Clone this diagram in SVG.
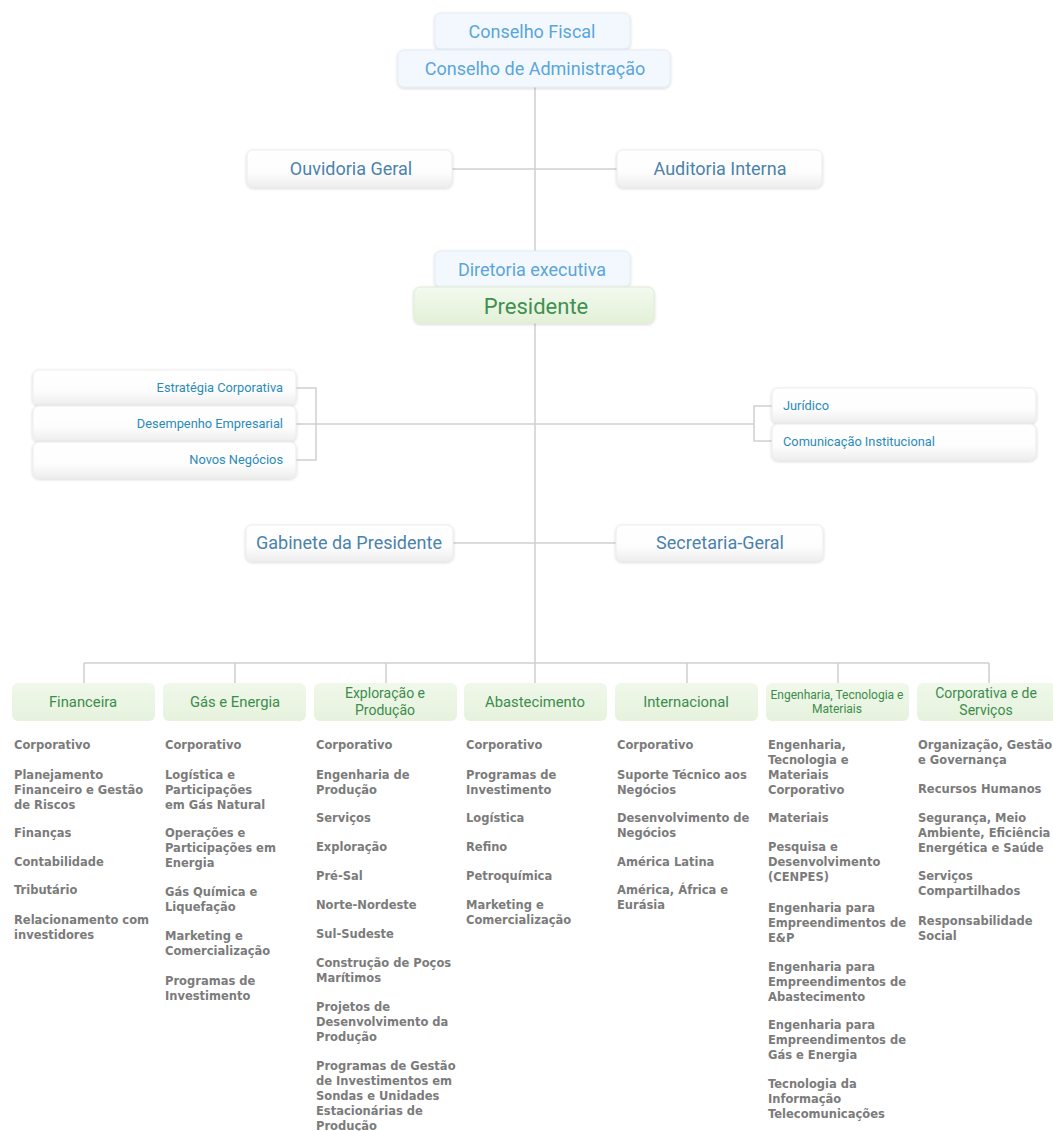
<svg xmlns="http://www.w3.org/2000/svg" width="1053" height="1131" viewBox="0 0 1053 1131">
<style>
.t{font-family:Roboto,"Liberation Sans",sans-serif;text-anchor:middle}
.blue{fill:#5aa5dc;font-size:18px}
.steel{fill:#4a82ad;font-size:18px}
.pres{fill:#3f9150;font-size:22px}
.side{font-family:Roboto,"Liberation Sans",sans-serif;fill:#2b8bb8;font-size:12.8px}
.hdr{fill:#3c8c4c;font-size:14.8px}
.hdr2{fill:#3c8c4c;font-size:14px}
.item{font-family:"DejaVu Sans",Verdana,sans-serif;font-weight:bold;fill:#7b7b7b;font-size:11.5px}
.ln{stroke:#cfcfcf;stroke-width:1.5;fill:none}
.bb{fill:#f3f8fe;stroke:#e4ecf5;stroke-width:1}
.wb{fill:url(#gw);stroke:#ececec;stroke-width:1}
.gb{fill:url(#gg);stroke:#e0ecd6;stroke-width:1}
.hb{fill:url(#gh)}
</style>
<defs>
<linearGradient id="gw" x1="0" y1="0" x2="0" y2="1"><stop offset="0" stop-color="#ffffff"/><stop offset="0.6" stop-color="#fdfdfd"/><stop offset="1" stop-color="#eeeeee"/></linearGradient>
<linearGradient id="gg" x1="0" y1="0" x2="0" y2="1"><stop offset="0" stop-color="#f3f9ee"/><stop offset="1" stop-color="#e3f1d8"/></linearGradient>
<linearGradient id="gh" x1="0" y1="0" x2="0" y2="1"><stop offset="0" stop-color="#f0f8ea"/><stop offset="1" stop-color="#e6f2dd"/></linearGradient>
<filter id="sh" x="-10%" y="-20%" width="120%" height="150%"><feDropShadow dx="0" dy="1" stdDeviation="1.5" flood-color="#000" flood-opacity="0.18"/></filter>
</defs>

<g id="connectors">
<line class="ln" x1="535" y1="87" x2="535" y2="251"/>
<line class="ln" x1="452" y1="169" x2="617" y2="169"/>
<line class="ln" x1="535" y1="323" x2="535" y2="663"/>
<polyline class="ln" points="296,388 316,388 316,460 296,460"/>
<line class="ln" x1="296" y1="424" x2="754" y2="424"/>
<polyline class="ln" points="772,406 754,406 754,441 772,441"/>
<line class="ln" x1="453" y1="543" x2="616" y2="543"/>
<line class="ln" x1="84" y1="663" x2="989" y2="663"/>
<line class="ln" x1="84" y1="663" x2="84" y2="683"/>
<line class="ln" x1="235" y1="663" x2="235" y2="683"/>
<line class="ln" x1="386" y1="663" x2="386" y2="683"/>
<line class="ln" x1="535" y1="663" x2="535" y2="683"/>
<line class="ln" x1="687" y1="663" x2="687" y2="683"/>
<line class="ln" x1="838" y1="663" x2="838" y2="683"/>
<line class="ln" x1="989" y1="663" x2="989" y2="683"/>
</g>

<g id="conselho-fiscal"><rect class="bb" x="435" y="13" width="195" height="36" rx="6" filter="url(#sh)"/><text class="t blue" x="532" y="38">Conselho Fiscal</text></g>
<g id="conselho-admin"><rect class="bb" x="398" y="50" width="272" height="37" rx="6" filter="url(#sh)"/><text class="t blue" x="535" y="75">Conselho de Administração</text></g>
<g id="ouvidoria"><rect class="wb" x="247" y="150" width="205" height="37" rx="6" filter="url(#sh)"/><text class="t steel" x="351" y="175">Ouvidoria Geral</text></g>
<g id="auditoria"><rect class="wb" x="617" y="150" width="205" height="37" rx="6" filter="url(#sh)"/><text class="t steel" x="720" y="175">Auditoria Interna</text></g>
<g id="diretoria"><rect class="bb" x="435" y="251" width="195" height="36" rx="6" filter="url(#sh)"/><text class="t blue" x="532" y="276">Diretoria executiva</text></g>
<g id="presidente"><rect class="gb" x="414" y="287" width="240" height="36" rx="6" filter="url(#sh)"/><text class="t pres" x="536" y="314">Presidente</text></g>

<g id="estrategia"><rect class="wb" x="33" y="370" width="263" height="35" rx="6" filter="url(#sh)"/><text class="side" x="283" y="392" text-anchor="end">Estratégia Corporativa</text></g>
<g id="desempenho"><rect class="wb" x="33" y="406" width="263" height="35" rx="6" filter="url(#sh)"/><text class="side" x="283" y="428" text-anchor="end">Desempenho Empresarial</text></g>
<g id="novos"><rect class="wb" x="33" y="442" width="263" height="36" rx="6" filter="url(#sh)"/><text class="side" x="283" y="464" text-anchor="end">Novos Negócios</text></g>
<g id="juridico"><rect class="wb" x="772" y="388" width="264" height="35" rx="6" filter="url(#sh)"/><text class="side" x="783" y="410">Jurídico</text></g>
<g id="comunicacao"><rect class="wb" x="772" y="424" width="264" height="36" rx="6" filter="url(#sh)"/><text class="side" x="783" y="446">Comunicação Institucional</text></g>

<g id="gabinete"><rect class="wb" x="246" y="525" width="207" height="36" rx="6" filter="url(#sh)"/><text class="t steel" x="349" y="549">Gabinete da Presidente</text></g>
<g id="secretaria"><rect class="wb" x="616" y="525" width="207" height="36" rx="6" filter="url(#sh)"/><text class="t steel" x="720" y="549">Secretaria-Geral</text></g>

<g id="financeira"><rect class="hb" x="12" y="683" width="143" height="38" rx="6"/><text class="t hdr" x="83" y="707">Financeira</text></g>
<g id="gas-energia"><rect class="hb" x="163" y="683" width="143" height="38" rx="6"/><text class="t hdr" x="235" y="707">Gás e Energia</text></g>
<g id="exploracao"><rect class="hb" x="314" y="683" width="143" height="38" rx="6"/><text class="t hdr2" x="385" y="698">Exploração e</text><text class="t hdr2" x="385" y="715">Produção</text></g>
<g id="abastecimento"><rect class="hb" x="464" y="683" width="143" height="38" rx="6"/><text class="t hdr" x="535" y="707">Abastecimento</text></g>
<g id="internacional"><rect class="hb" x="615" y="683" width="143" height="38" rx="6"/><text class="t hdr" x="686" y="707">Internacional</text></g>
<g id="engenharia"><rect class="hb" x="766" y="683" width="143" height="38" rx="6"/><text class="t hdr" x="837" y="699" style="font-size:12px">Engenharia, Tecnologia e</text><text class="t hdr" x="837" y="713" style="font-size:12px">Materiais</text></g>
<g id="corporativa"><rect class="hb" x="917" y="683" width="146" height="38" rx="6"/><text class="t hdr2" x="986" y="698">Corporativa e de</text><text class="t hdr2" x="986" y="715">Serviços</text></g>

<g id="itens-financeira" class="item">
<text x="14" y="749">Corporativo</text>
<text x="14" y="779">Planejamento<tspan x="14" dy="15">Financeiro e Gestão</tspan><tspan x="14" dy="15">de Riscos</tspan></text>
<text x="14" y="837">Finanças</text>
<text x="14" y="866">Contabilidade</text>
<text x="14" y="894">Tributário</text>
<text x="14" y="924">Relacionamento com<tspan x="14" dy="15">investidores</tspan></text>
</g>
<g id="itens-gas" class="item">
<text x="165" y="749">Corporativo</text>
<text x="165" y="779">Logística e<tspan x="165" dy="15">Participações</tspan><tspan x="165" dy="15">em Gás Natural</tspan></text>
<text x="165" y="837">Operações e<tspan x="165" dy="15">Participações em</tspan><tspan x="165" dy="15">Energia</tspan></text>
<text x="165" y="896">Gás Química e<tspan x="165" dy="15">Liquefação</tspan></text>
<text x="165" y="940">Marketing e<tspan x="165" dy="15">Comercialização</tspan></text>
<text x="165" y="985">Programas de<tspan x="165" dy="15">Investimento</tspan></text>
</g>
<g id="itens-exploracao" class="item">
<text x="316" y="749">Corporativo</text>
<text x="316" y="779">Engenharia de<tspan x="316" dy="15">Produção</tspan></text>
<text x="316" y="822">Serviços</text>
<text x="316" y="851">Exploração</text>
<text x="316" y="880">Pré-Sal</text>
<text x="316" y="909">Norte-Nordeste</text>
<text x="316" y="938">Sul-Sudeste</text>
<text x="316" y="967">Construção de Poços<tspan x="316" dy="15">Marítimos</tspan></text>
<text x="316" y="1011">Projetos de<tspan x="316" dy="15">Desenvolvimento da</tspan><tspan x="316" dy="15">Produção</tspan></text>
<text x="316" y="1070">Programas de Gestão<tspan x="316" dy="15">de Investimentos em</tspan><tspan x="316" dy="15">Sondas e Unidades</tspan><tspan x="316" dy="15">Estacionárias de</tspan><tspan x="316" dy="15">Produção</tspan></text>
</g>
<g id="itens-abastecimento" class="item">
<text x="466" y="749">Corporativo</text>
<text x="466" y="779">Programas de<tspan x="466" dy="15">Investimento</tspan></text>
<text x="466" y="822">Logística</text>
<text x="466" y="851">Refino</text>
<text x="466" y="880">Petroquímica</text>
<text x="466" y="909">Marketing e<tspan x="466" dy="15">Comercialização</tspan></text>
</g>
<g id="itens-internacional" class="item">
<text x="617" y="749">Corporativo</text>
<text x="617" y="779">Suporte Técnico aos<tspan x="617" dy="15">Negócios</tspan></text>
<text x="617" y="822">Desenvolvimento de<tspan x="617" dy="15">Negócios</tspan></text>
<text x="617" y="866">América Latina</text>
<text x="617" y="894">América, África e<tspan x="617" dy="15">Eurásia</tspan></text>
</g>
<g id="itens-engenharia" class="item">
<text x="768" y="749">Engenharia,<tspan x="768" dy="15">Tecnologia e</tspan><tspan x="768" dy="15">Materiais</tspan><tspan x="768" dy="15">Corporativo</tspan></text>
<text x="768" y="822">Materiais</text>
<text x="768" y="851">Pesquisa e<tspan x="768" dy="15">Desenvolvimento</tspan><tspan x="768" dy="15">(CENPES)</tspan></text>
<text x="768" y="912">Engenharia para<tspan x="768" dy="15">Empreendimentos de</tspan><tspan x="768" dy="15">E&amp;P</tspan></text>
<text x="768" y="971">Engenharia para<tspan x="768" dy="15">Empreendimentos de</tspan><tspan x="768" dy="15">Abastecimento</tspan></text>
<text x="768" y="1029">Engenharia para<tspan x="768" dy="15">Empreendimentos de</tspan><tspan x="768" dy="15">Gás e Energia</tspan></text>
<text x="768" y="1088">Tecnologia da<tspan x="768" dy="15">Informação</tspan><tspan x="768" dy="15">Telecomunicações</tspan></text>
</g>
<g id="itens-corporativa" class="item">
<text x="918" y="749">Organização, Gestão<tspan x="918" dy="15">e Governança</tspan></text>
<text x="918" y="793">Recursos Humanos</text>
<text x="918" y="822">Segurança, Meio<tspan x="918" dy="15">Ambiente, Eficiência</tspan><tspan x="918" dy="15">Energética e Saúde</tspan></text>
<text x="918" y="880">Serviços<tspan x="918" dy="15">Compartilhados</tspan></text>
<text x="918" y="925">Responsabilidade<tspan x="918" dy="15">Social</tspan></text>
</g>
</svg>
